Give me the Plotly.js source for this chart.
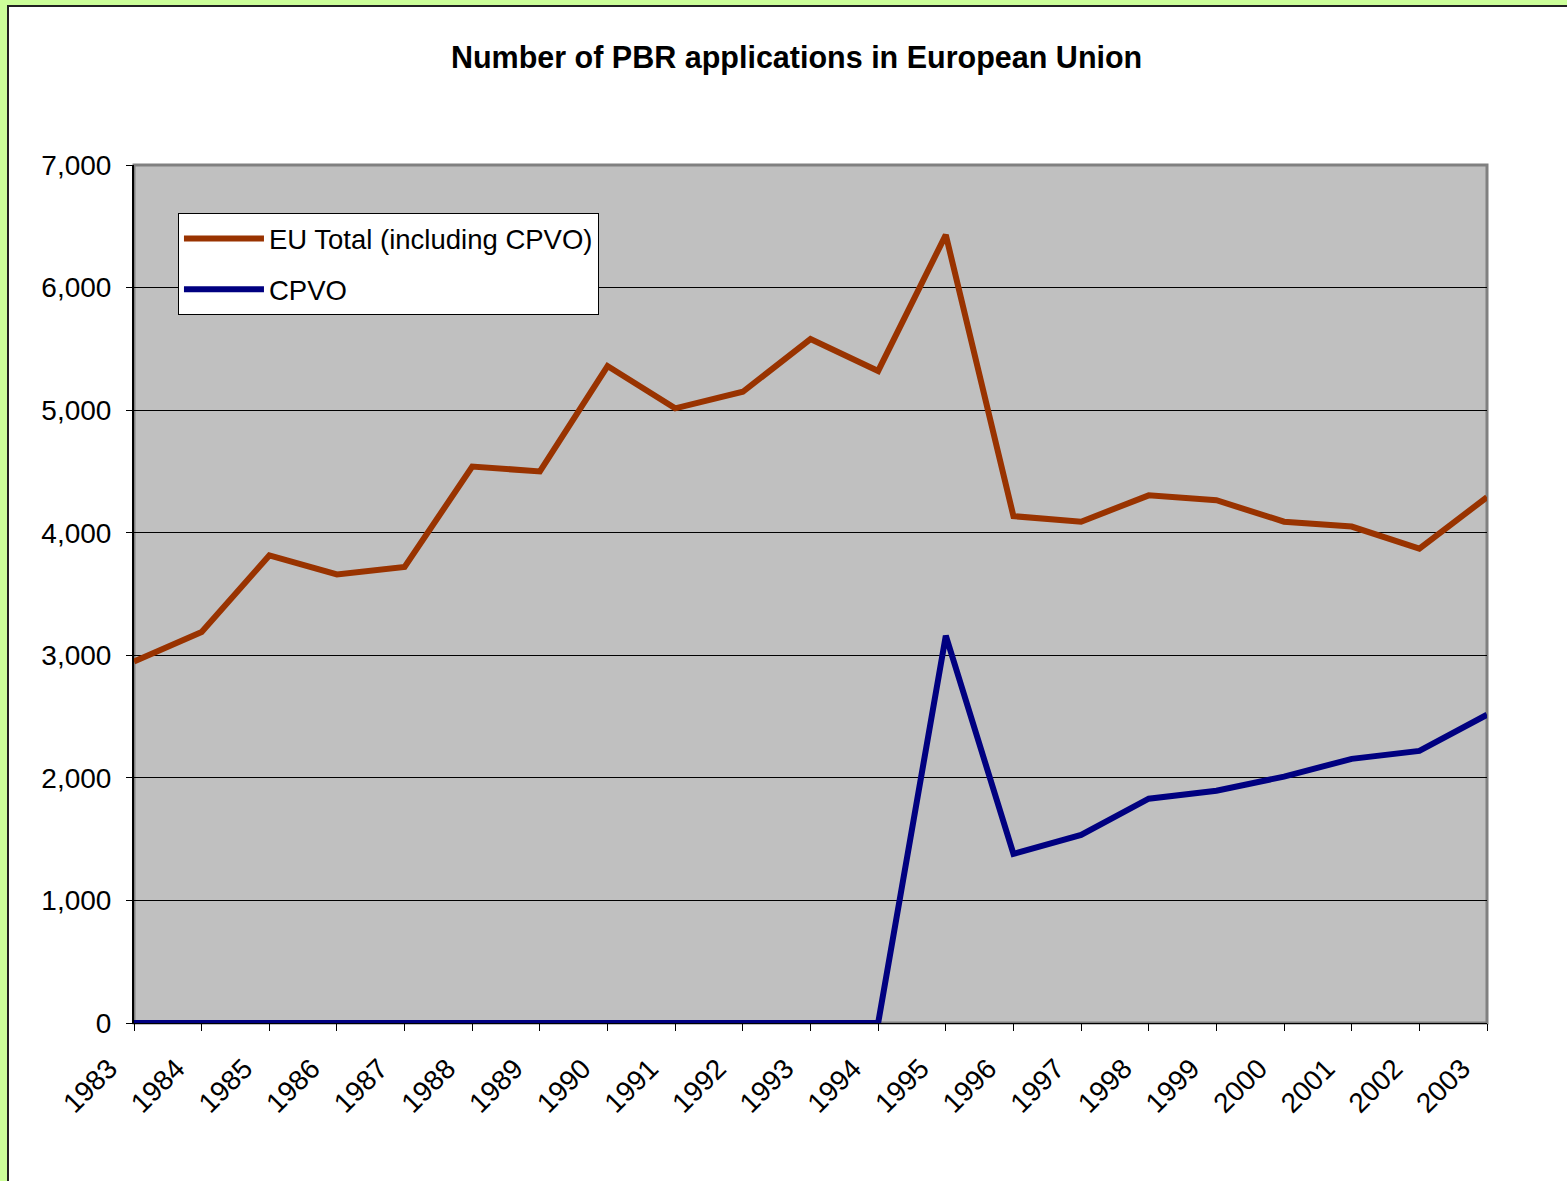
<!DOCTYPE html>
<html>
<head>
<meta charset="utf-8">
<script src="https://cdn.plot.ly/plotly-3.0.1.min.js"></script>
<style>
  html, body { margin: 0; padding: 0; background: #CCFF99; width: 1567px; height: 1181px; overflow: hidden; }
  #frame { position: absolute; left: 7px; top: 5px; width: 1560px; height: 1176px; background: #ffffff;
           border-left: 2px solid #222; border-top: 2px solid #222; box-sizing: border-box; }
  #chart { position: absolute; left: 0; top: 0; width: 1558px; height: 1174px; }
</style>
</head>
<body>
<div id="frame"><div id="chart"></div></div>
<script>
const years = [1983, 1984, 1985, 1986, 1987, 1988, 1989, 1990, 1991, 1992, 1993,
               1994, 1995, 1996, 1997, 1998, 1999, 2000, 2001, 2002, 2003];
const euTotal = [2950, 3190, 3815, 3660, 3720, 4540, 4500, 5360, 5015, 5150, 5580,
                 5320, 6430, 4135, 4090, 4305, 4265, 4090, 4050, 3870, 4290];
const cpvo = [0, 0, 0, 0, 0, 0, 0, 0, 0, 0, 0,
              0, 3160, 1380, 1535, 1830, 1895, 2010, 2155, 2220, 2515];
const seriesNames = ['EU Total (including CPVO)', 'CPVO'];
const yTicks = [0, 1000, 2000, 3000, 4000, 5000, 6000, 7000];
const chartTitle = 'Number of PBR applications in European Union';

const font = 'Liberation Sans, Arial, sans-serif';

const traces = [
  { x: years, y: euTotal, name: seriesNames[0], type: 'scatter', mode: 'lines',
    legendgroup: 'a', line: { color: '#993300', width: 6 } },
  { x: years, y: cpvo, name: seriesNames[1], type: 'scatter', mode: 'lines',
    legendgroup: 'b', line: { color: '#000080', width: 6 } }
];

const layout = {
  width: 1558, height: 1174,
  paper_bgcolor: '#ffffff',
  plot_bgcolor: '#C0C0C0',
  margin: { l: 125, r: 80, t: 158, b: 158 },
  font: { family: font, color: '#000', size: 26 },
  title: { text: '<b>' + chartTitle + '</b>', font: { family: font, size: 30.5, color: '#000' },
           x: 0.5055, xref: 'container', xanchor: 'center', y: 1 - 50 / 1174, yref: 'container', yanchor: 'middle' },
  showlegend: true,
  legend: { x: 0.0325, y: 0.944, xanchor: 'left', yanchor: 'top',
            bgcolor: '#ffffff', bordercolor: '#000', borderwidth: 1,
            font: { family: font, size: 27.5, color: '#000' },
            tracegroupgap: 12, itemwidth: 80 },
  xaxis: {
    type: 'linear', range: [1983, 2003], tickmode: 'array', tickvals: years,
    ticktext: years.map(String), tickangle: -45,
    ticks: 'outside', ticklen: 7, tickcolor: '#000', tickwidth: 1,
    showgrid: false, zeroline: false,
    showline: true, linecolor: '#000', linewidth: 1,
    ticklabelstandoff: 10, ticklabelshift: -25,
    tickfont: { family: font, size: 28, color: '#000' }
  },
  yaxis: {
    range: [0, 7000], tickmode: 'array', tickvals: yTicks,
    ticktext: yTicks.map(v => v.toLocaleString('en-US')),
    ticks: 'outside', ticklen: 6, tickcolor: '#000', tickwidth: 1,
    showgrid: true, gridcolor: '#000', gridwidth: 1,
    zeroline: false, showline: true, linecolor: '#000', linewidth: 2,
    ticklabelstandoff: 9,
    tickfont: { family: font, size: 28, color: '#000' }
  },
  shapes: [
    { type: 'rect', xref: 'paper', yref: 'paper', x0: 0, x1: 1, y0: 0, y1: 1,
      line: { color: '#808080', width: 3 }, layer: 'below' }
  ]
};

Plotly.newPlot('chart', traces, layout, { displayModeBar: false, staticPlot: true });
</script>
</body>
</html>
